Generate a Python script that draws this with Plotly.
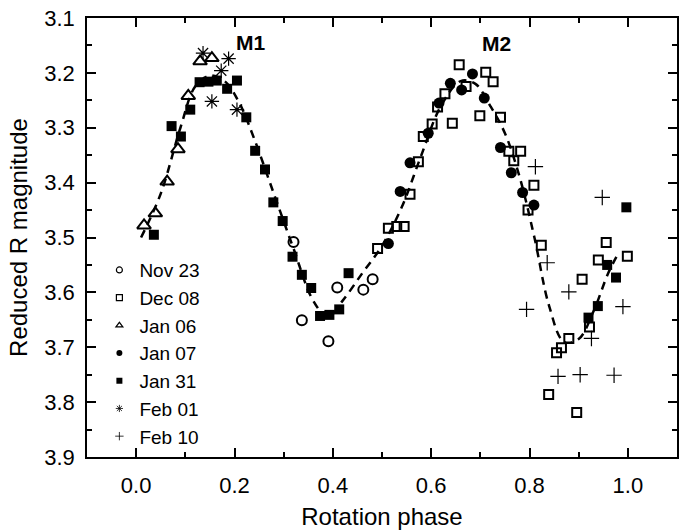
import plotly.graph_objects as go

# ---- data ----
nov23_phase = [0.320, 0.337, 0.391, 0.409, 0.462, 0.481]
nov23_mag = [3.508, 3.651, 3.689, 3.591, 3.595, 3.576]

dec08_phase = [0.491, 0.513, 0.530, 0.545, 0.557, 0.574, 0.584, 0.602, 0.613, 0.628,
               0.643, 0.657, 0.671, 0.699, 0.711, 0.726, 0.741, 0.758, 0.768, 0.782,
               0.797, 0.809, 0.824, 0.839, 0.855, 0.865, 0.880, 0.896, 0.907, 0.922,
               0.940, 0.956, 0.999]
dec08_mag = [3.520, 3.483, 3.480, 3.480, 3.421, 3.362, 3.316, 3.293, 3.262, 3.238,
             3.292, 3.185, 3.225, 3.278, 3.199, 3.216, 3.281, 3.343, 3.360, 3.343,
             3.450, 3.405, 3.514, 3.786, 3.710, 3.701, 3.684, 3.819, 3.576, 3.663,
             3.541, 3.509, 3.534]

jan06_phase = [0.016, 0.039, 0.063, 0.085, 0.106, 0.130, 0.154]
jan06_mag = [3.478, 3.456, 3.398, 3.339, 3.242, 3.179, 3.173]

jan07_phase = [0.513, 0.537, 0.557, 0.594, 0.616, 0.639, 0.662, 0.684, 0.708, 0.741,
               0.763, 0.786, 0.809]
jan07_mag = [3.511, 3.416, 3.364, 3.310, 3.255, 3.219, 3.231, 3.202, 3.246, 3.336,
             3.382, 3.418, 3.441]

jan31_phase = [0.036, 0.072, 0.091, 0.110, 0.129, 0.147, 0.164, 0.185, 0.205, 0.224,
               0.242, 0.262, 0.279, 0.298, 0.318, 0.337, 0.356, 0.374, 0.393, 0.413,
               0.432, 0.920, 0.939, 0.958, 0.976, 0.997]
jan31_mag = [3.495, 3.297, 3.316, 3.267, 3.217, 3.216, 3.214, 3.229, 3.214, 3.281,
             3.342, 3.376, 3.436, 3.470, 3.535, 3.568, 3.592, 3.643, 3.641, 3.631,
             3.565, 3.646, 3.625, 3.550, 3.573, 3.445]

feb01_phase = [0.136, 0.154, 0.173, 0.188, 0.205]
feb01_mag = [3.164, 3.252, 3.196, 3.174, 3.267]

feb10_phase = [0.794, 0.812, 0.836, 0.858, 0.880, 0.903, 0.926, 0.948, 0.972, 0.990]
feb10_mag = [3.631, 3.371, 3.546, 3.753, 3.599, 3.750, 3.684, 3.427, 3.751, 3.626]

fit_phase = [0.01, 0.05, 0.09, 0.12, 0.15, 0.18, 0.21, 0.24, 0.28, 0.32, 0.36, 0.39,
             0.42, 0.46, 0.50, 0.54, 0.58, 0.62, 0.66, 0.69, 0.72, 0.75, 0.78, 0.81,
             0.84, 0.87, 0.90, 0.93, 0.96, 0.98]
fit_mag = [3.50, 3.42, 3.30, 3.225, 3.205, 3.215, 3.255, 3.32, 3.42, 3.52, 3.615, 3.645,
           3.615, 3.565, 3.515, 3.445, 3.35, 3.26, 3.215, 3.22, 3.26, 3.31, 3.39, 3.50,
           3.625, 3.69, 3.685, 3.635, 3.565, 3.53]

x_ticks = [0.0, 0.2, 0.4, 0.6, 0.8, 1.0]
y_ticks = [3.1, 3.2, 3.3, 3.4, 3.5, 3.6, 3.7, 3.8, 3.9]

FONT = "Liberation Sans, Arial, sans-serif"
BLACK = "#000000"

fig = go.Figure()

fig.add_trace(go.Scatter(x=fit_phase, y=fit_mag, mode="lines", showlegend=False,
                         line=dict(color=BLACK, width=2.5, dash="8px,6px", shape="spline"),
                         hoverinfo="skip"))

series = [
    ("Nov 23", nov23_phase, nov23_mag, "circle-open", 10, 2.0),
    ("Dec 08", dec08_phase, dec08_mag, "square-open", 9, 2.0),
    ("Jan 06", jan06_phase, jan06_mag, "triangle-up-open", 12, 2.0),
    ("Jan 07", jan07_phase, jan07_mag, "circle", 11, 0),
    ("Jan 31", jan31_phase, jan31_mag, "square", 10, 0),
    ("Feb 01", feb01_phase, feb01_mag, "asterisk-open", 12, 1.2),
    ("Feb 10", feb10_phase, feb10_mag, "cross-thin-open", 11, 1.2),
]

for name, xs, ys, sym, size, lw in series:
    fig.add_trace(go.Scatter(
        x=xs, y=ys, mode="markers", name=name, showlegend=False,
        marker=dict(symbol=sym, size=size, color=BLACK,
                    line=dict(color=BLACK, width=lw)),
    ))

# legend entries with small symbols as in the reference
for name, xs, ys, sym, size, lw in series:
    fig.add_trace(go.Scatter(
        x=[None], y=[None], mode="markers", name=name, showlegend=True,
        marker=dict(symbol=sym, size=6, color=BLACK,
                    line=dict(color=BLACK, width=max(lw * 0.6, 0.8) if lw else 0)),
    ))

fig.add_annotation(x=0.232, y=3.144, text="<b>M1</b>", showarrow=False,
                   font=dict(family=FONT, size=21, color=BLACK))
fig.add_annotation(x=0.733, y=3.146, text="<b>M2</b>", showarrow=False,
                   font=dict(family=FONT, size=21, color=BLACK))

axis_common = dict(
    showline=True, linecolor=BLACK, linewidth=1.5, mirror="ticks",
    ticks="inside", ticklen=9, tickwidth=1.5, tickcolor=BLACK,
    showgrid=False, zeroline=False, automargin=False,
    tickfont=dict(family=FONT, size=22, color=BLACK),
)

fig.update_xaxes(range=[-0.1, 1.1], tickvals=x_ticks, ticktext=[f"{v:.1f}" for v in x_ticks],
                 minor=dict(dtick=0.1, tick0=0.0, ticks="inside", ticklen=5, tickwidth=1.5,
                            tickcolor=BLACK, showgrid=False),
                 ticklabelstandoff=8,
                 title=dict(text="Rotation phase", font=dict(family=FONT, size=24, color=BLACK),
                            standoff=12),
                 **axis_common)
fig.update_yaxes(range=[3.9, 3.1], tickvals=y_ticks, ticktext=[f"{v:.1f}" for v in y_ticks],
                 minor=dict(dtick=0.05, tick0=3.1, ticks="inside", ticklen=5, tickwidth=1.5,
                            tickcolor=BLACK, showgrid=False),
                 ticklabelstandoff=6,
                 title=dict(text="Reduced R magnitude", font=dict(family=FONT, size=24, color=BLACK),
                            standoff=10),
                 **axis_common)

fig.update_layout(
    width=689, height=530,
    margin=dict(l=87, r=12, t=18, b=73),
    paper_bgcolor="white", plot_bgcolor="white",
    legend=dict(x=0.021, y=0.469, xanchor="left", yanchor="top",
                bgcolor="rgba(0,0,0,0)", borderwidth=0,
                font=dict(family=FONT, size=19, color=BLACK),
                tracegroupgap=0, itemsizing="trace"),
    showlegend=True,
)

fig.write_html("out.html")
